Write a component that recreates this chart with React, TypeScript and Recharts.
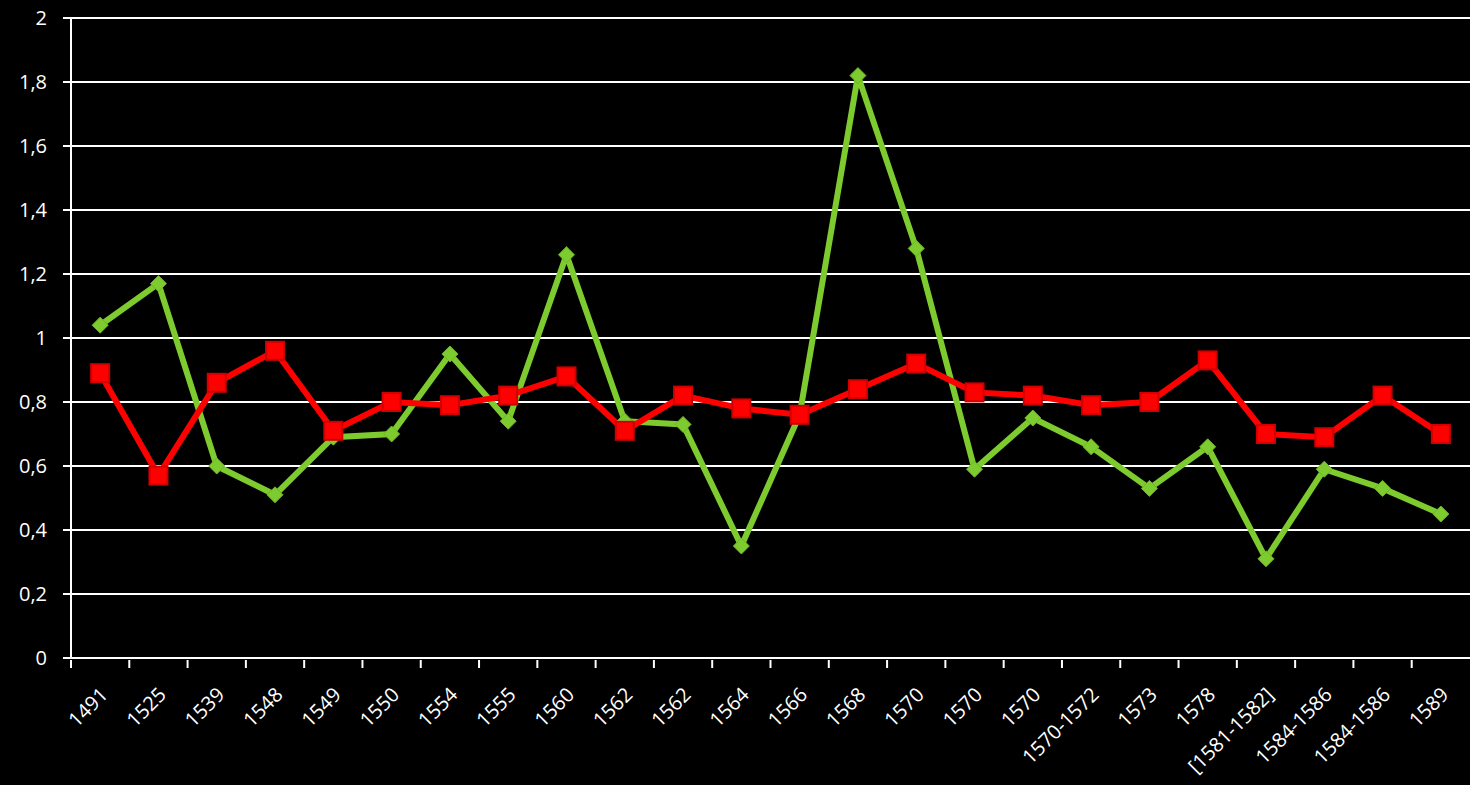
import React from 'react';
import { LineChart, Line, XAxis, YAxis, CartesianGrid } from 'recharts';

const categories = ['1491', '1525', '1539', '1548', '1549', '1550', '1554', '1555', '1560', '1562', '1562', '1564', '1566', '1568', '1570', '1570', '1570', '1570-1572', '1573', '1578', '[1581-1582]', '1584-1586', '1584-1586', '1589'];
const greenValues = [1.04, 1.17, 0.60, 0.51, 0.69, 0.70, 0.95, 0.74, 1.26, 0.74, 0.73, 0.35, 0.76, 1.82, 1.28, 0.59, 0.75, 0.66, 0.53, 0.66, 0.31, 0.59, 0.53, 0.45];
const redValues = [0.89, 0.57, 0.86, 0.96, 0.71, 0.80, 0.79, 0.82, 0.88, 0.71, 0.82, 0.78, 0.76, 0.84, 0.92, 0.83, 0.82, 0.79, 0.80, 0.93, 0.70, 0.69, 0.82, 0.70];
const yTicks = [0, 0.2, 0.4, 0.6, 0.8, 1, 1.2, 1.4, 1.6, 1.8, 2];

const data = categories.map((c, i) => ({ key: i, label: c, green: greenValues[i], red: redValues[i] }));

const FONT = '"Open Sans", "DejaVu Sans", sans-serif';
const W = 1470;
const H = 785;
const LEFT = 71;
const HALF = (W - LEFT) / categories.length / 2;

const renderXTick = (props: any) => {
  const { x, y, payload, index } = props;
  const label: string = categories[payload.value] ?? '';
  const axisY = y - 8;
  const tx = x + 9;
  const ty = axisY + 36;
  return (
    <g key={`xt${index}`}>
      <line x1={x - HALF} x2={x - HALF} y1={axisY} y2={axisY + 8} stroke="#fff" strokeWidth={2} />
      <text x={tx} y={ty} textAnchor="end" fill="#fff" fontSize={20} fontFamily={FONT} transform={`rotate(-45, ${tx}, ${ty})`}>
        {label}
      </text>
    </g>
  );
};

const renderYTick = (props: any) => {
  const { x, y, payload, index } = props;
  const v = String(payload.value).replace('.', ',');
  return (
    <text key={`yt${index}`} x={x} y={y} dy={7} textAnchor="end" fill="#fff" fontSize={20} fontFamily={FONT}>
      {v}
    </text>
  );
};

const Diamond = (props: any) => {
  const { cx, cy, index } = props;
  if (cx == null || cy == null) return <g key={`d${index}`} />;
  const r = 8;
  return <polygon key={`d${index}`} points={`${cx},${cy - r} ${cx + r},${cy} ${cx},${cy + r} ${cx - r},${cy}`} fill="#7DCB2E" stroke="#6DB528" strokeWidth={1} />;
};

const Square = (props: any) => {
  const { cx, cy, index } = props;
  if (cx == null || cy == null) return <g key={`s${index}`} />;
  const s = 9;
  return <rect key={`s${index}`} x={cx - s} y={cy - s} width={2 * s} height={2 * s} fill="#FF0000" stroke="#D00000" strokeWidth={2} />;
};

export default function App() {
  return (
    <div style={{ background: '#000', width: W, height: H, position: 'absolute', left: 0, top: 0 }}>
      <style>{`body{margin:0;background:#000;}`}</style>
      <LineChart width={W} height={H} data={data} margin={{ top: 18, right: 0, left: 0, bottom: 0 }}>
        <CartesianGrid vertical={false} horizontal stroke="#fff" strokeWidth={2} />
        <XAxis
          dataKey="key"
          type="category"
          interval={0}
          height={127}
          padding={{ left: HALF, right: HALF }}
          tick={renderXTick}
          tickLine={false}
          axisLine={{ stroke: '#fff', strokeWidth: 2 }}
          tickSize={8}
        />
        <YAxis
          width={LEFT}
          domain={[0, 2]}
          ticks={yTicks}
          interval={0}
          tick={renderYTick}
          tickLine={{ stroke: '#fff', strokeWidth: 2 }}
          axisLine={{ stroke: '#fff', strokeWidth: 2 }}
          tickSize={8}
          tickMargin={16}
        />
        <Line dataKey="green" stroke="#7DCB2E" strokeWidth={6} dot={Diamond} isAnimationActive={false} />
        <Line dataKey="red" stroke="#FF0000" strokeWidth={6} dot={Square} isAnimationActive={false} />
      </LineChart>
    </div>
  );
}
